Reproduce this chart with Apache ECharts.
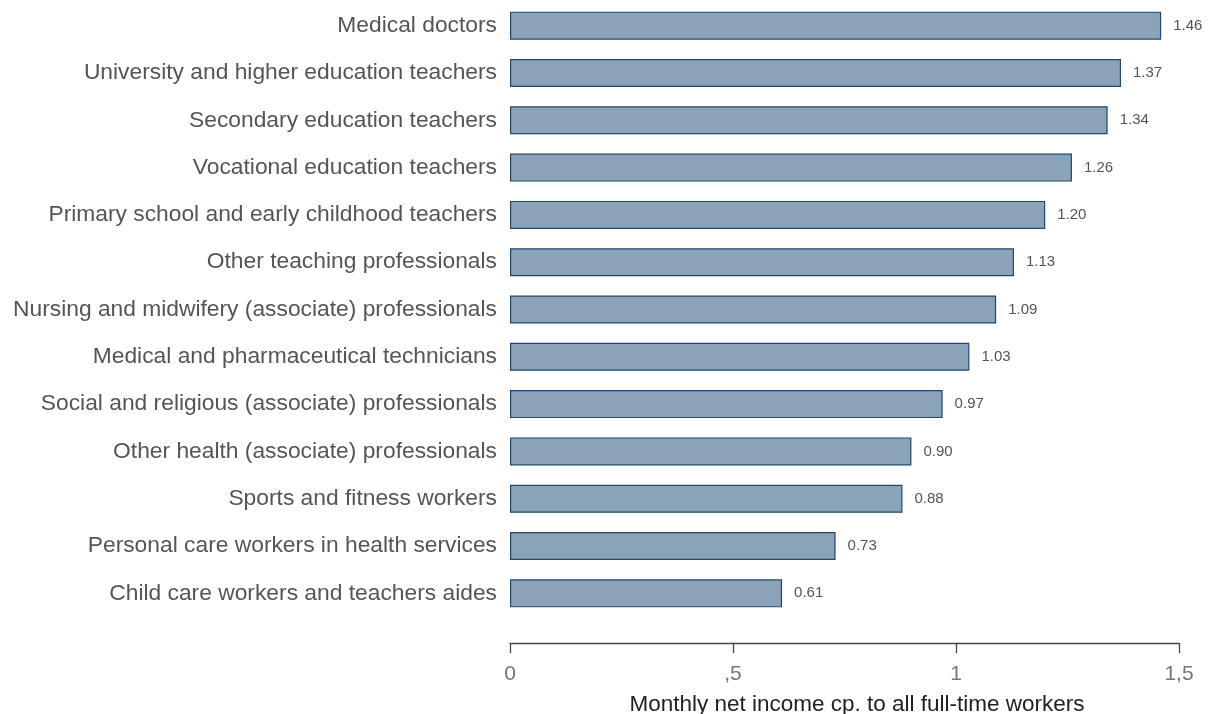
<!DOCTYPE html>
<html>
<head>
<meta charset="utf-8">
<script src="https://cdn.jsdelivr.net/npm/echarts@6/dist/echarts.min.js"></script>
<style>
  html, body { margin: 0; padding: 0; background: #fff; }
  #chart { width: 1210px; height: 714px; }
</style>
</head>
<body>
<div id="chart"></div>
<script>
const occupations = [
  'Medical doctors',
  'University and higher education teachers',
  'Secondary education teachers',
  'Vocational education teachers',
  'Primary school and early childhood teachers',
  'Other teaching professionals',
  'Nursing and midwifery (associate) professionals',
  'Medical and pharmaceutical technicians',
  'Social and religious (associate) professionals',
  'Other health (associate) professionals',
  'Sports and fitness workers',
  'Personal care workers in health services',
  'Child care workers and teachers aides'
]
const incomeRatio = [1.46, 1.37, 1.34, 1.26, 1.20, 1.13, 1.09, 1.03, 0.97, 0.90, 0.88, 0.73, 0.61]
const xTicks = [0, 0.5, 1, 1.5]
const xTickLabels = { 0: '0', 0.5: ',5', 1: '1', 1.5: '1,5' }

const chart = echarts.init(document.getElementById('chart'))
chart.setOption({
  animation: false,
  backgroundColor: '#fff',
  textStyle: { fontFamily: 'Liberation Sans, Arial, sans-serif' },
  grid: { left: 510, right: 31, top: 2, bottom: 97, outerBoundsMode: 'none', containLabel: false },
  xAxis: {
    type: 'value',
    min: xTicks[0],
    max: xTicks[xTicks.length - 1],
    interval: 0.5,
    offset: 26,
    splitLine: { show: false },
    axisLine: { show: true, lineStyle: { color: '#444', width: 1.3 } },
    axisTick: { show: true, length: 10, lineStyle: { color: '#444', width: 1.3 } },
    axisLabel: {
      color: '#777', fontSize: 21, margin: 21,
      formatter: v => xTickLabels[v] ?? String(v)
    },
    name: 'Monthly net income cp. to all full-time workers',
    nameLocation: 'middle',
    nameGap: 50,
    nameTextStyle: { color: '#222', fontSize: 22.5, padding: [0, 0, 0, 25] }
  },
  yAxis: {
    type: 'category',
    inverse: true,
    data: occupations,
    axisLine: { show: false },
    axisTick: { show: false },
    axisLabel: { color: '#555', fontSize: 22.8, margin: 13 }
  },
  series: [{
    type: 'bar',
    data: incomeRatio,
    barWidth: 28,
    itemStyle: { color: '#8ba3b8', borderColor: '#1e4870', borderWidth: 1.2 },
    label: {
      show: true,
      position: 'right',
      distance: 12,
      color: '#555',
      fontSize: 15,
      formatter: p => p.value.toFixed(2)
    }
  }]
})
</script>
</body>
</html>
